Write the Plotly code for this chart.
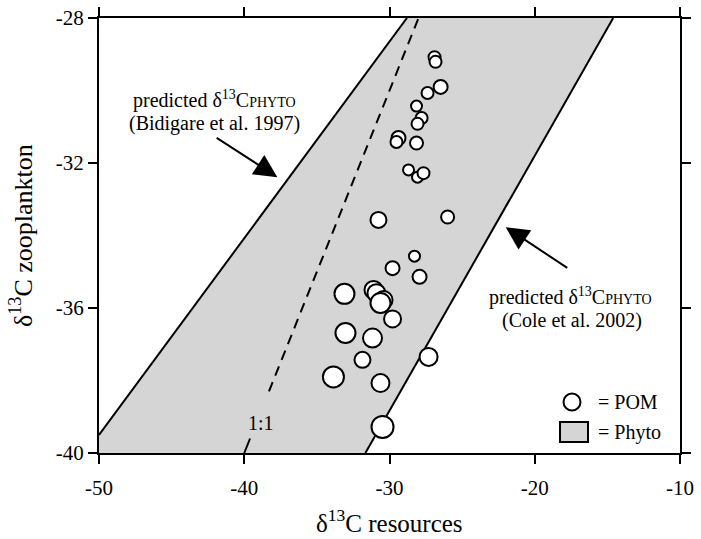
import plotly.graph_objects as go

# ---------------- data ----------------
# POM points: d13C resources (x) vs d13C zooplankton (y), relative marker size
pom_x = [-26.90, -26.83, -26.48, -27.38, -28.14, -27.79, -28.07, -29.38, -29.52, -28.14,
         -28.69, -28.07, -27.66, -30.76, -26.00, -28.28, -29.79, -27.93,
         -33.10, -31.10, -30.90, -30.41, -30.62, -29.79, -33.03, -31.17, -31.86,
         -27.31, -33.86, -30.62, -30.48]
pom_y = [-29.08, -29.21, -29.90, -30.07, -30.43, -30.76, -30.92, -31.31, -31.42, -31.45,
         -32.19, -32.39, -32.28, -33.57, -33.49, -34.57, -34.90, -35.14,
         -35.61, -35.50, -35.59, -35.78, -35.86, -36.30, -36.69, -36.83, -37.43,
         -37.35, -37.90, -38.07, -39.28]
pom_size = [12, 12, 14, 12, 11, 12, 12, 14, 12, 13,
            11, 11, 12, 16, 13, 11, 14, 14,
            20, 18, 18, 18, 20, 17, 20, 19, 16,
            18, 21, 18, 22]

# Predicted phytoplankton band (Bidigare et al. 1997 left edge, Cole et al. 2002 right edge)
bidigare_x = [-50.0, -28.8]
bidigare_y = [-39.5, -28.0]
cole_x = [-31.66, -14.6]
cole_y = [-40.0, -28.0]

# 1:1 line
one_x = [-40.0, -28.0]
one_gap = [-39.6, -38.3]  # gap left for the "1:1" label

x_ticks = [-50, -40, -30, -20, -10]
y_ticks = [-40, -36, -32, -28]

# ---------------- figure ----------------
FONT = "Liberation Serif"
W, H = 701, 539
L, R, T, B = 99, 21, 18, 86
PW, PH = W - L - R, H - T - B


def px(xp):
    return (xp - L) / PW


def py(yp):
    return (H - B - yp) / PH


fig = go.Figure()

band_x = [bidigare_x[0], bidigare_x[1], cole_x[1], cole_x[0], bidigare_x[0], bidigare_x[0]]
band_y = [bidigare_y[0], bidigare_y[1], cole_y[1], cole_y[0], cole_y[0], bidigare_y[0]]
fig.add_trace(go.Scatter(x=band_x, y=band_y, mode="lines", fill="toself",
                         fillcolor="#d5d5d5", line=dict(width=0), hoverinfo="skip",
                         showlegend=False))
fig.add_trace(go.Scatter(x=bidigare_x, y=bidigare_y, mode="lines",
                         line=dict(color="black", width=2), showlegend=False))
fig.add_trace(go.Scatter(x=cole_x, y=cole_y, mode="lines",
                         line=dict(color="black", width=2), showlegend=False))

fig.add_trace(go.Scatter(x=[one_gap[1], one_x[1]], y=[one_gap[1], one_x[1]], mode="lines",
                         line=dict(color="black", width=2, dash="10px,7px"), showlegend=False))
fig.add_trace(go.Scatter(x=[one_x[0], one_gap[0]], y=[one_x[0], one_gap[0]], mode="lines",
                         line=dict(color="black", width=2), showlegend=False))

fig.add_trace(go.Scatter(x=pom_x, y=pom_y, mode="markers",
                         marker=dict(size=pom_size, color="white",
                                     line=dict(color="black", width=2), opacity=1),
                         showlegend=False))

sub = "<span style='font-size:14px'>PHYTO</span>"
ann = []


def label(xp, yp, text, size=20, anchor="center", angle=0):
    ann.append(dict(x=px(xp), y=py(yp), xref="paper", yref="paper", text=text,
                    xanchor=anchor, yanchor="middle", showarrow=False, textangle=angle,
                    font=dict(family=FONT, size=size, color="black")))


label(214, 100, "predicted δ<sup>13</sup>C" + sub)
label(214, 123, "(Bidigare et al. 1997)")
label(570, 296, "predicted δ<sup>13</sup>C" + sub)
label(572, 320, "(Cole et al. 2002)")
label(261, 423, "1:1")
label(596, 402, "= POM", anchor="left")
label(596, 432, "= Phyto", anchor="left")
# axis titles
label(389, 521, "δ<sup>13</sup>C resources", size=25)
label(22, 236, "δ<sup>13</sup>C zooplankton", size=26, angle=-90)

ann.append(dict(x=-37.72, y=-32.39, ax=-42.0, ay=-31.28, xref="x", yref="y",
                axref="x", ayref="y", text="", showarrow=True,
                arrowhead=2, arrowsize=2.3, arrowwidth=2, arrowcolor="black"))
ann.append(dict(x=-22.0, y=-33.77, ax=-17.66, ay=-34.92, xref="x", yref="y",
                axref="x", ayref="y", text="", showarrow=True,
                arrowhead=2, arrowsize=2.3, arrowwidth=2, arrowcolor="black"))

shapes = [
    dict(type="circle", xref="paper", yref="paper", xsizemode="pixel", ysizemode="pixel",
         xanchor=px(572), yanchor=py(402), x0=-8.5, x1=8.5, y0=-8.5, y1=8.5,
         line=dict(color="black", width=2), fillcolor="white"),
    dict(type="rect", xref="paper", yref="paper",
         x0=px(560), x1=px(588), y0=py(442), y1=py(422),
         line=dict(color="black", width=2), fillcolor="#d5d5d5"),
]

axis_common = dict(showline=True, linecolor="black", linewidth=2, mirror="ticks",
                   ticks="outside", ticklen=9, tickwidth=1.5, tickcolor="black",
                   showgrid=False, zeroline=False, automargin=False,
                   tickfont=dict(family=FONT, size=21, color="black"))

fig.update_layout(
    width=W, height=H,
    margin=dict(l=L, r=R, t=T, b=B, pad=0, autoexpand=False),
    paper_bgcolor="white", plot_bgcolor="white",
    showlegend=False,
    annotations=ann, shapes=shapes,
    xaxis=dict(range=[-50, -10], tickvals=x_ticks, ticktext=[str(v) for v in x_ticks],
               ticklabelstandoff=6, **axis_common),
    yaxis=dict(range=[-40, -28], tickvals=y_ticks, ticktext=[str(v) for v in y_ticks],
               **axis_common),
)

fig.write_html("out.html", config={"displayModeBar": False},
               post_script="document.body.style.margin='0';")
